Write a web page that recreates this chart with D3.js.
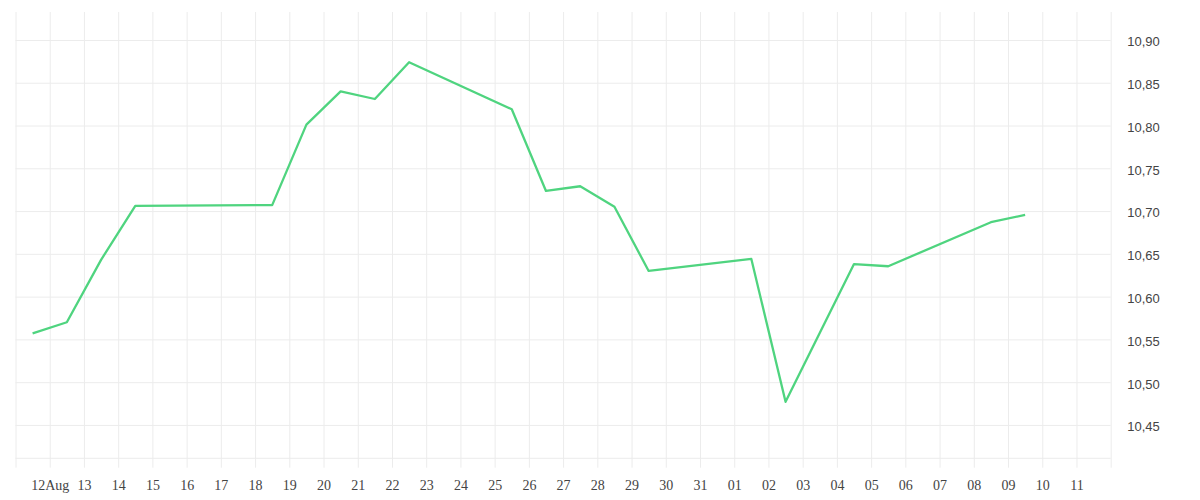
<!DOCTYPE html>
<html>
<head>
<meta charset="utf-8">
<script src="https://cdn.jsdelivr.net/npm/d3@7"></script>
<style>
  body { margin: 0; background: #fff; }
  .grid line { stroke: #ececec; stroke-width: 1; }
  .grid .domain { display: none; }
</style>
</head>
<body>
<div id="chart"></div>
<script>
// exchange-rate style series, one value per trading day (noon)
const dates = [
  '2014-08-11', '2014-08-12', '2014-08-13', '2014-08-14', '2014-08-18',
  '2014-08-19', '2014-08-20', '2014-08-21', '2014-08-22', '2014-08-25',
  '2014-08-26', '2014-08-27', '2014-08-28', '2014-08-29', '2014-09-01',
  '2014-09-02', '2014-09-04', '2014-09-05', '2014-09-08', '2014-09-09'
]
const values = [
  10.557, 10.570, 10.643, 10.706, 10.707,
  10.801, 10.840, 10.831, 10.874, 10.819,
  10.7235, 10.729, 10.705, 10.630, 10.644,
  10.477, 10.638, 10.6355, 10.687, 10.6955
]
const yTicks = [10.45, 10.50, 10.55, 10.60, 10.65, 10.70, 10.75, 10.80, 10.85, 10.90]
const xTickLabels = [
  '', '12Aug', '13', '14', '15', '16', '17', '18', '19', '20', '21', '22', '23',
  '24', '25', '26', '27', '28', '29', '30', '31', '01', '02', '03', '04', '05',
  '06', '07', '08', '09', '10', '11', ''
]

const width = 1200
const height = 500
const plotLeft = 15.5, plotRight = 1110.7, plotTop = 12, plotBottom = 458.3

const parse = d3.utcParse('%Y-%m-%d %H')
const data = dates.map((d, i) => ({ date: parse(d + ' 12'), value: values[i] }))

const x = d3.scaleUtc()
  .domain([parse('2014-08-11 00'), parse('2014-09-12 00')])
  .range([plotLeft, plotRight])

const y = d3.scaleLinear()
  .domain([10.411, 10.9327])
  .range([plotBottom, plotTop])

const svg = d3.select('#chart')
  .append('svg')
  .attr('width', width)
  .attr('height', height)
  .attr('viewBox', [0, 0, width, height])

const dayTicks = d3.utcDay.range(x.domain()[0], d3.utcDay.offset(x.domain()[1], 1))

// vertical grid + day labels
const xAxis = svg.append('g')
  .attr('class', 'grid')
  .attr('transform', `translate(0,${plotBottom + 9.4})`)
  .call(
    d3.axisBottom(x)
      .tickValues(dayTicks)
      .tickSize(-(plotBottom + 9.4 - plotTop))
      .tickPadding(12)
      .tickFormat((d, i) => xTickLabels[i])
  )
xAxis.selectAll('text')
  .attr('fill', '#444')
  .style('font-family', '"Liberation Serif", serif')
  .style('font-size', '14px')

// horizontal grid + value labels
const yAxis = svg.append('g')
  .attr('class', 'grid')
  .attr('transform', `translate(${plotRight},0)`)
  .call(
    d3.axisRight(y)
      .tickValues(yTicks)
      .tickSize(-(plotRight - plotLeft))
      .tickPadding(16.5)
      .tickFormat(d => d.toFixed(2).replace('.', ','))
  )
yAxis.selectAll('text')
  .attr('fill', '#444')
  .attr('dy', '0.45em')
  .style('font-family', '"Liberation Sans", Arial, sans-serif')
  .style('font-size', '13px')

// bottom baseline
svg.append('line')
  .attr('x1', plotLeft)
  .attr('x2', plotRight)
  .attr('y1', plotBottom)
  .attr('y2', plotBottom)
  .attr('stroke', '#ececec')

const line = d3.line()
  .x(d => x(d.date))
  .y(d => y(d.value))

svg.append('path')
  .datum(data)
  .attr('fill', 'none')
  .attr('stroke', '#4fd47f')
  .attr('stroke-width', 2.3)
  .attr('stroke-linejoin', 'round')
  .attr('d', line)
</script>
</body>
</html>
